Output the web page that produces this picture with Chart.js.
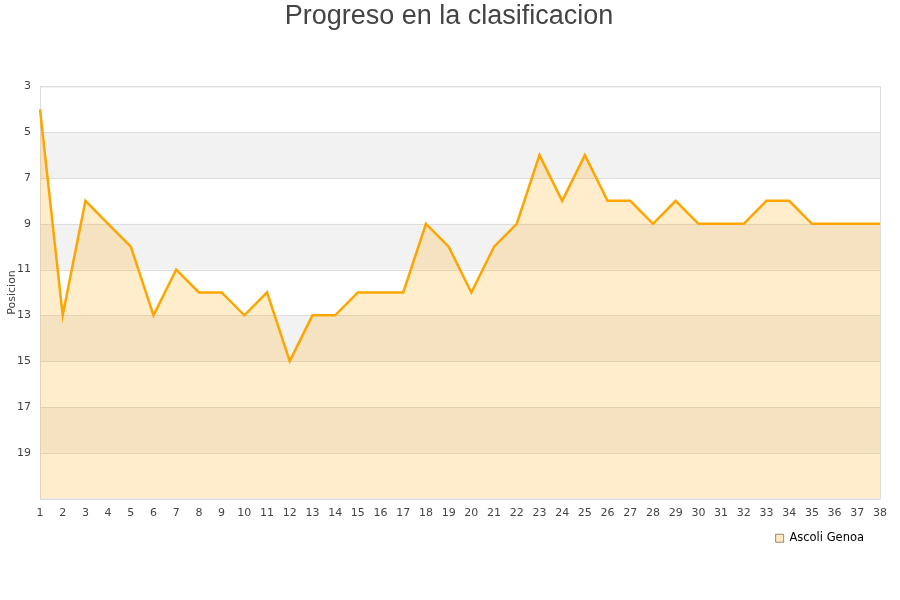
<!DOCTYPE html>
<html lang="es">
<head>
    <meta charset="UTF-8">
    <title>Progreso en la clasificacion</title>
    <script src="https://cdn.jsdelivr.net/npm/chart.js"></script>
    <style>
        body { margin: 0; padding: 0; background: #fff; }
        #grafico { display: block; }
    </style>
</head>
<body>
    <canvas id="grafico" width="900" height="600"></canvas>
    <script>
        var jornadas = [];
        for (var j = 1; j <= 38; j++) { jornadas.push(String(j)); }

        var equipo = 'Ascoli Genoa';
        var posiciones = [4, 13, 8, 9, 10, 13, 11, 12, 12, 13, 12, 15, 13, 13, 12, 12, 12, 9, 10, 12,
                          10, 9, 6, 8, 6, 8, 8, 9, 8, 9, 9, 9, 8, 8, 9, 9, 9, 9];

        var posMin = 3, posMax = 21, paso = 2;

        // franjas grises alternas + borde del area
        var franjas = {
            id: 'franjas',
            afterLayout: function(chart) {
                // leyenda un poco mas a la izquierda
                chart.legend.left -= 15;
                chart.legend.right -= 15;
            },
            beforeDatasetsDraw: function(chart) {
                var ctx = chart.ctx, area = chart.chartArea, y = chart.scales.y;
                ctx.save();
                for (var v = posMin + paso; v < posMax; v += paso * 2) {
                    var y1 = y.getPixelForValue(v), y2 = y.getPixelForValue(v + paso);
                    ctx.fillStyle = '#f2f2f2';
                    ctx.fillRect(area.left, y1, area.right - area.left, y2 - y1);
                }
                ctx.strokeStyle = '#dddddd';
                ctx.lineWidth = 1;
                for (var t = posMin; t <= posMax; t += paso) {
                    var py = Math.round(y.getPixelForValue(t)) + 0.5;
                    ctx.beginPath();
                    ctx.moveTo(area.left, py);
                    ctx.lineTo(area.right, py);
                    ctx.stroke();
                }
                ctx.strokeRect(area.left + 0.5, area.top + 0.5, area.right - area.left, area.bottom - area.top);
                ctx.restore();
            }
        };

        new Chart(document.getElementById('grafico').getContext('2d'), {
            type: 'line',
            data: {
                labels: jornadas,
                datasets: [{
                    label: equipo,
                    data: posiciones,
                    borderColor: '#ffa500',
                    backgroundColor: 'rgba(255, 165, 0, 0.2)',
                    borderWidth: 2.5,
                    pointRadius: 0,
                    tension: 0,
                    fill: 'start'
                }]
            },
            options: {
                responsive: false,
                animation: false,
                layout: { padding: { left: 9, right: 11, top: 0, bottom: 46 } },
                plugins: {
                    title: {
                        display: true,
                        text: 'Progreso en la clasificacion',
                        color: '#444444',
                        font: { family: 'Liberation Sans', size: 27, weight: 'normal' },
                        padding: { top: 0, bottom: 54 }
                    },
                    legend: {
                        position: 'bottom',
                        align: 'end',
                        labels: {
                            boxWidth: 8,
                            boxHeight: 8,
                            padding: 10,
                            color: '#222222',
                            font: { family: 'DejaVu Sans', size: 11.5 },
                            generateLabels: function(chart) {
                                return [{
                                    text: equipo,
                                    fillStyle: '#ffe9c2',
                                    strokeStyle: '#9a8a70',
                                    lineWidth: 1,
                                    datasetIndex: 0
                                }];
                            }
                        }
                    },
                    tooltip: { enabled: false }
                },
                scales: {
                    x: {
                        grid: { display: false, drawTicks: false },
                        border: { display: false },
                        ticks: {
                            color: '#444444',
                            font: { family: 'DejaVu Sans', size: 11 },
                            maxRotation: 0,
                            autoSkip: false,
                            padding: 8
                        },
                        afterFit: function(scale) { scale.height = 24; }
                    },
                    y: {
                        reverse: true,
                        min: posMin,
                        max: posMax,
                        grid: { display: false, drawTicks: false },
                        border: { display: false },
                        ticks: {
                            stepSize: paso,
                            color: '#444444',
                            font: { family: 'DejaVu Sans', size: 11 },
                            padding: 9,
                            callback: function(v) { return v === posMax ? '' : v; }
                        },
                        title: {
                            display: true,
                            text: 'Posicion',
                            color: '#444444',
                            font: { family: 'DejaVu Sans', size: 11 },
                            padding: { top: -3, bottom: 0 }
                        },
                        afterFit: function(scale) { scale.width = 31; }
                    },
                    margen: {
                        position: 'right',
                        grid: { display: false, drawTicks: false },
                        border: { display: false },
                        ticks: { display: false },
                        afterFit: function(scale) { scale.width = 9; }
                    }
                }
            },
            plugins: [franjas]
        });
    </script>
</body>
</html>
